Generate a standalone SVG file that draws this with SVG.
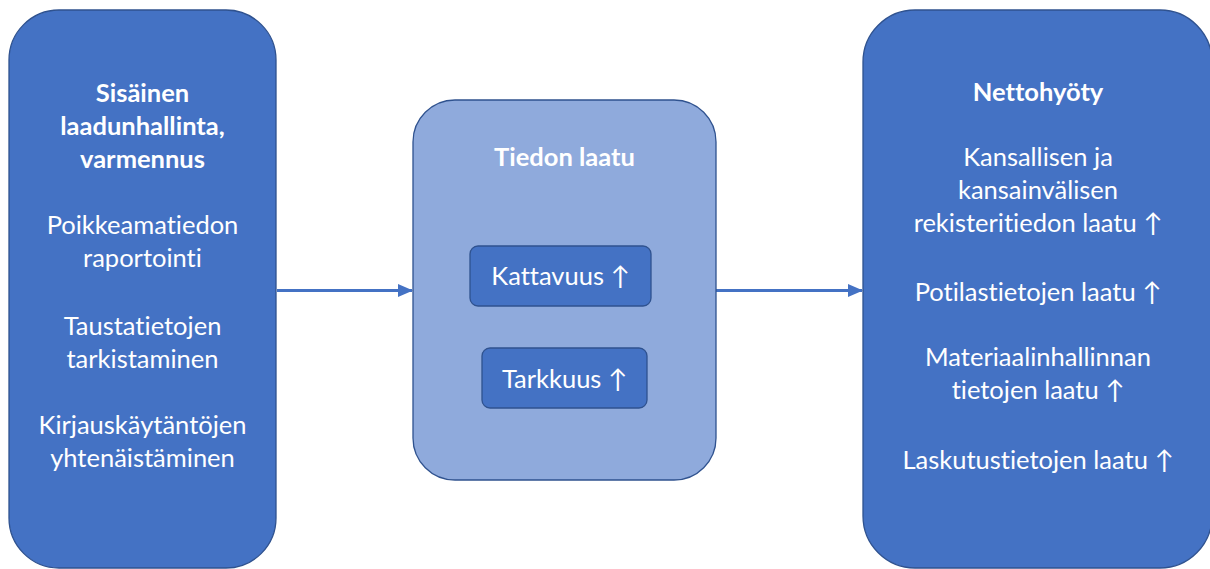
<svg xmlns="http://www.w3.org/2000/svg" width="1210" height="569" viewBox="0 0 1210 569">
  <style>
    .box { fill: #4472C4; stroke: #2F528F; stroke-width: 1.3; }
    .mid { fill: #8FAADC; stroke: #2F528F; stroke-width: 1.3; }
    .t { font-family: Lato, "Open Sans", "Liberation Sans", sans-serif; font-size: 25.5px; fill: #FFFFFF; text-anchor: middle; font-variant-ligatures: none; font-feature-settings: "liga" 0, "clig" 0; }
    .b { font-weight: bold; }
    .conn { stroke: #4472C4; stroke-width: 3; fill: none; }
  </style>
  <defs>
    <marker id="arrow" markerWidth="15" markerHeight="13" refX="14" refY="6.5" orient="auto" markerUnits="userSpaceOnUse">
      <path d="M0,0 L15,6.5 L0,13 Z" fill="#4472C4"/>
    </marker>
  </defs>
  <rect width="1210" height="569" fill="#FFFFFF"/>

  <g id="connectors">
    <line class="conn" x1="277" y1="290.5" x2="412" y2="290.5" marker-end="url(#arrow)"/>
    <line class="conn" x1="716" y1="290.5" x2="862" y2="290.5" marker-end="url(#arrow)"/>
  </g>

  <g id="node-sisainen">
    <rect class="box" x="9" y="10" width="267" height="558" rx="50" ry="50"/>
    <text class="t b" x="142.5" y="102">Sisäinen</text>
    <text class="t b" x="142.5" y="135">laadunhallinta,</text>
    <text class="t b" x="142.5" y="168">varmennus</text>
    <text class="t" x="142.5" y="234">Poikkeamatiedon</text>
    <text class="t" x="142.5" y="267">raportointi</text>
    <text class="t" x="142.5" y="335">Taustatietojen</text>
    <text class="t" x="142.5" y="368">tarkistaminen</text>
    <text class="t" x="142.5" y="434">Kirjauskäytäntöjen</text>
    <text class="t" x="142.5" y="467">yhtenäistäminen</text>
  </g>

  <g id="node-tiedon-laatu">
    <rect class="mid" x="413" y="100" width="303" height="380" rx="42" ry="42"/>
    <text class="t b" x="564.5" y="166">Tiedon laatu</text>
  </g>

  <g id="node-kattavuus">
    <rect class="box" x="470" y="246" width="181" height="60" rx="8" ry="8"/>
    <text class="t" x="560.5" y="285">Kattavuus ↑</text>
  </g>

  <g id="node-tarkkuus">
    <rect class="box" x="482" y="348" width="165" height="60" rx="8" ry="8"/>
    <text class="t" x="564.5" y="388">Tarkkuus ↑</text>
  </g>

  <g id="node-nettohyoty">
    <rect class="box" x="863" y="10" width="349" height="558" rx="52" ry="52"/>
    <text class="t b" x="1038" y="101">Nettohyöty</text>
    <text class="t" x="1038" y="166">Kansallisen ja</text>
    <text class="t" x="1038" y="199">kansainvälisen</text>
    <text class="t" x="1038" y="232">rekisteritiedon laatu ↑</text>
    <text class="t" x="1038" y="301">Potilastietojen laatu ↑</text>
    <text class="t" x="1038" y="366">Materiaalinhallinnan</text>
    <text class="t" x="1038" y="399">tietojen laatu ↑</text>
    <text class="t" x="1038" y="469">Laskutustietojen laatu ↑</text>
  </g>
</svg>
